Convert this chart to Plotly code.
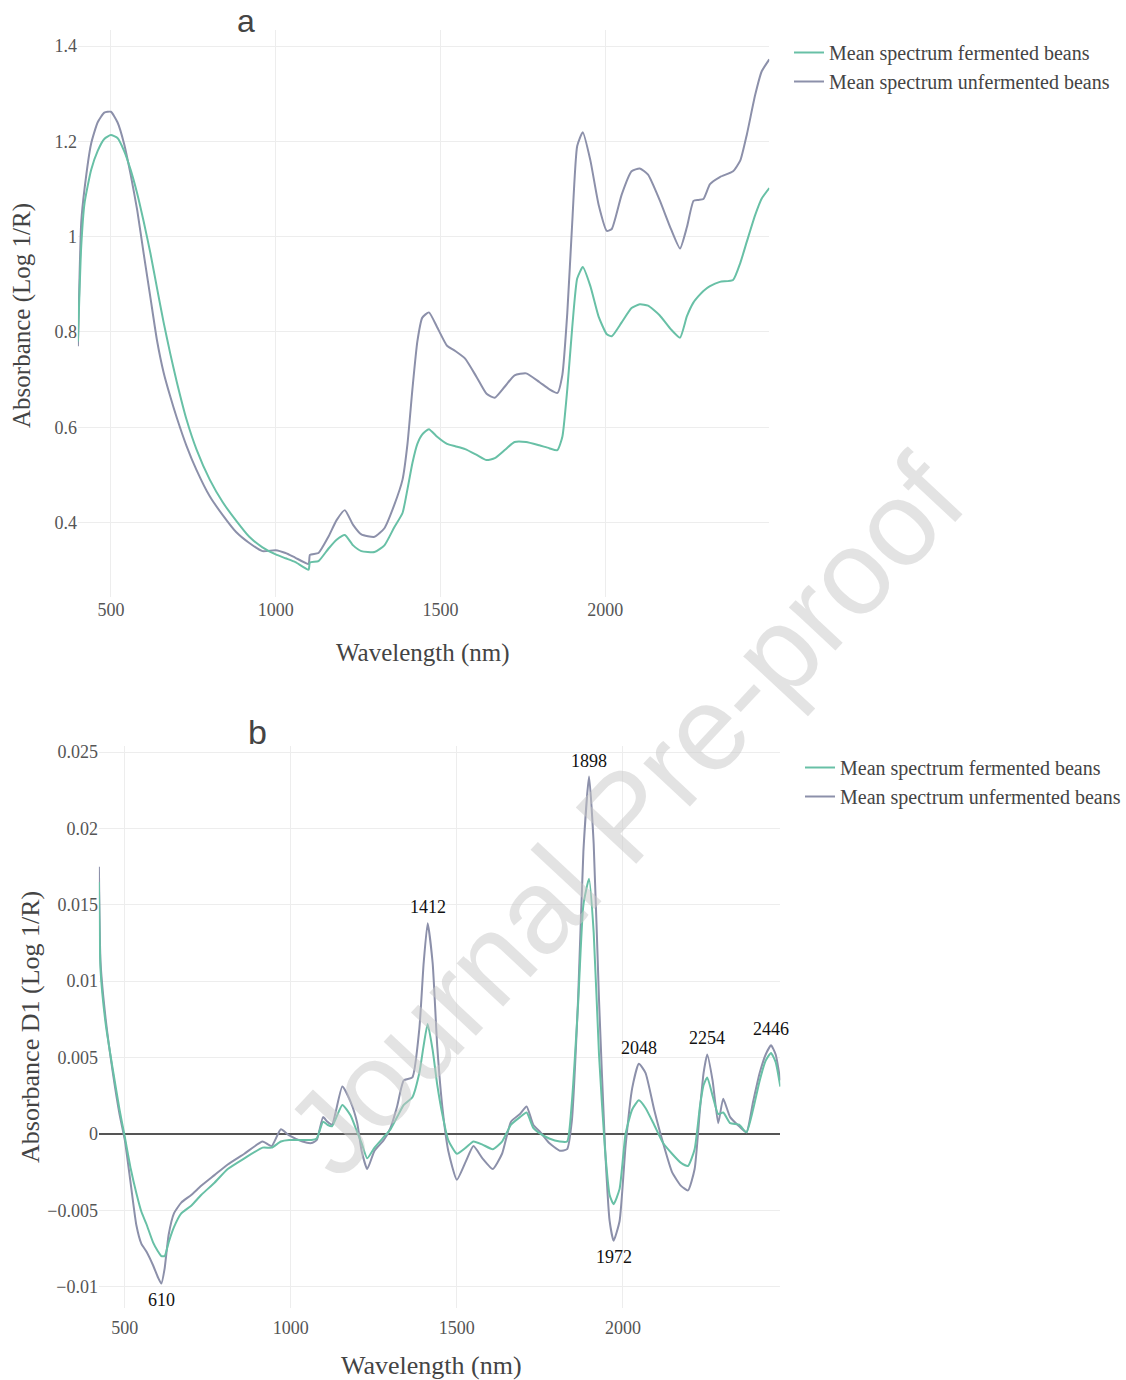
import plotly.graph_objects as go

# ---- Panel a: mean NIR spectra (absorbance, log 1/R) ----
wl_a = [400, 410, 420, 440, 460, 480, 500, 520, 540, 560, 580, 600, 620, 640, 660, 680,
        700, 730, 760, 800, 840, 880, 920, 960, 1000, 1030, 1060, 1100, 1104, 1130, 1160,
        1185, 1210, 1235, 1260, 1300, 1330, 1360, 1385, 1400, 1415, 1430, 1445, 1465, 1490,
        1520, 1545, 1575, 1610, 1640, 1665, 1695, 1725, 1760, 1800, 1830, 1855, 1870, 1885,
        1900, 1915, 1932, 1955, 1980, 2005, 2020, 2050, 2080, 2105, 2130, 2165, 2200, 2227,
        2248, 2268, 2283, 2298, 2318, 2348, 2388, 2410, 2430, 2455, 2475, 2498]

abs_unfermented = [0.77, 1.03, 1.10, 1.195, 1.24, 1.26, 1.262, 1.24, 1.195, 1.13, 1.055, 0.962,
                   0.872, 0.782, 0.715, 0.665, 0.62, 0.56, 0.51, 0.455, 0.415, 0.38, 0.357, 0.34,
                   0.342, 0.336, 0.326, 0.313, 0.332, 0.336, 0.37, 0.405, 0.426, 0.395, 0.375,
                   0.37, 0.388, 0.437, 0.49, 0.565, 0.68, 0.78, 0.83, 0.841, 0.81, 0.771, 0.76,
                   0.744, 0.705, 0.67, 0.662, 0.685, 0.709, 0.713, 0.695, 0.68, 0.672, 0.71, 0.84,
                   1.03, 1.19, 1.219, 1.16, 1.067, 1.012, 1.016, 1.088, 1.137, 1.143, 1.13, 1.077,
                   1.015, 0.975, 1.02, 1.075, 1.077, 1.079, 1.11, 1.125, 1.137, 1.16, 1.215,
                   1.297, 1.347, 1.372]

abs_fermented = [0.78, 0.98, 1.07, 1.14, 1.18, 1.205, 1.213, 1.207, 1.18, 1.14, 1.09, 1.03,
                 0.965, 0.892, 0.82, 0.755, 0.695, 0.615, 0.553, 0.49, 0.442, 0.404, 0.37, 0.348,
                 0.333, 0.325, 0.317, 0.301, 0.316, 0.319, 0.345, 0.364, 0.374, 0.352, 0.34,
                 0.338, 0.352, 0.39, 0.42, 0.47, 0.525, 0.565, 0.585, 0.596, 0.58, 0.565, 0.56,
                 0.554, 0.542, 0.531, 0.535, 0.552, 0.569, 0.569, 0.562, 0.556, 0.552, 0.58,
                 0.68, 0.81, 0.912, 0.936, 0.896, 0.832, 0.795, 0.791, 0.82, 0.85, 0.858, 0.855,
                 0.835, 0.805, 0.788, 0.833, 0.862, 0.875, 0.886, 0.896, 0.905, 0.909, 0.945,
                 0.99, 1.045, 1.08, 1.102]

# ---- Panel b: first derivative spectra ----
wl_b = [422, 427, 443, 464, 484, 500, 518, 535, 550, 565, 585, 600, 610, 620, 632, 648, 670,
        700, 730, 770, 810, 860, 915, 942, 970, 995, 1035, 1062, 1078, 1097, 1110, 1124, 1155,
        1180, 1200, 1213, 1230, 1252, 1280, 1300, 1320, 1340, 1366, 1387, 1400, 1412, 1427,
        1441, 1457, 1474, 1500, 1527, 1550, 1577, 1608, 1636, 1663, 1690, 1710, 1730, 1752,
        1778, 1810, 1832, 1846, 1865, 1881, 1898, 1912, 1928, 1946, 1960, 1972, 1990, 2008,
        2028, 2048, 2068, 2094, 2121, 2148, 2175, 2196, 2216, 2232, 2243, 2254, 2270, 2287,
        2302, 2323, 2350, 2372, 2392, 2412, 2430, 2446, 2460, 2474]

d1_unfermented = [0.0175, 0.0112, 0.0074, 0.0040, 0.0013, -0.0004, -0.0033, -0.0060, -0.0072,
                  -0.0077, -0.0086, -0.0094, -0.0098, -0.0088, -0.0066, -0.0052, -0.0045,
                  -0.0040, -0.0034, -0.0027, -0.0020, -0.0013, -0.0005, -0.0008, 0.0003,
                  -0.0001, -0.0005, -0.0006, -0.0004, 0.0011, 0.0008, 0.0006, 0.0031, 0.0021,
                  0.0007, -0.0011, -0.0023, -0.0011, -0.0004, 0.0004, 0.0018, 0.0035, 0.0037,
                  0.0069, 0.0112, 0.0138, 0.0112, 0.0057, 0.0016, -0.0011, -0.0030, -0.0018,
                  -0.0008, -0.0016, -0.0023, -0.0013, 0.0008, 0.0013, 0.0018, 0.0006, 0.0001,
                  -0.0006, -0.0011, -0.0010, 0.0008, 0.0088, 0.0185, 0.0234, 0.0190, 0.0088,
                  -0.0008, -0.0057, -0.0070, -0.0057, -0.0008, 0.0030, 0.0046, 0.0040, 0.0016,
                  -0.0006, -0.0025, -0.0034, -0.0037, -0.0023, 0.0016, 0.0040, 0.0052, 0.0035,
                  0.0007, 0.0023, 0.0011, 0.0005, 0.0001, 0.0021, 0.0040, 0.0052, 0.0058,
                  0.0052, 0.0035]

d1_fermented = [0.0165, 0.0107, 0.0071, 0.0042, 0.0016, -0.0002, -0.0023, -0.0039, -0.0051,
                -0.0059, -0.0071, -0.0077, -0.0080, -0.0080, -0.0071, -0.0061, -0.0052,
                -0.0047, -0.0040, -0.0032, -0.0023, -0.0016, -0.0009, -0.0009, -0.0005,
                -0.0004, -0.0004, -0.0004, -0.0003, 0.0008, 0.0006, 0.0005, 0.0019, 0.0012,
                0.0001, -0.0006, -0.0016, -0.0009, -0.0002, 0.0003, 0.0011, 0.0019, 0.0024,
                0.0040, 0.0058, 0.0072, 0.0055, 0.0032, 0.0012, -0.0004, -0.0013, -0.0009,
                -0.0005, -0.0007, -0.0010, -0.0005, 0.0006, 0.0011, 0.0014, 0.0004, 0.0000,
                -0.0003, -0.0005, -0.0005, 0.0020, 0.0085, 0.0150, 0.0167, 0.0132, 0.0052,
                -0.0010, -0.0040, -0.0046, -0.0036, 0.0000, 0.0016, 0.0022, 0.0017, 0.0006,
                -0.0006, -0.0013, -0.0019, -0.0021, -0.0010, 0.0018, 0.0032, 0.0037, 0.0025,
                0.0013, 0.0014, 0.0007, 0.0006, 0.0001, 0.0016, 0.0035, 0.0048, 0.0053,
                0.0047, 0.0031]

# Labelled bands on the derivative panel and whether the label sits below the curve
peak_bands = [610, 1412, 1898, 1972, 2048, 2254, 2446]
peak_below = [True, False, False, True, False, False, False]

names = ["Mean spectrum fermented beans", "Mean spectrum unfermented beans"]
COL_FERM = "#68c0a6"
COL_UNF = "#8c90aa"

W, H = 1126, 1380


def px(xp):
    return xp / W


def py(yp):
    return 1 - yp / H


fig = go.Figure()

line_shape = dict(width=2, shape="spline", smoothing=0.5)

# panel a (unfermented drawn first so fermented sits on top; legend reversed)
fig.add_trace(go.Scatter(x=wl_a, y=abs_unfermented, name=names[1], mode="lines",
                         line=dict(color=COL_UNF, **line_shape), xaxis="x", yaxis="y",
                         legend="legend"))
fig.add_trace(go.Scatter(x=wl_a, y=abs_fermented, name=names[0], mode="lines",
                         line=dict(color=COL_FERM, **line_shape), xaxis="x", yaxis="y",
                         legend="legend"))
# panel b
fig.add_trace(go.Scatter(x=wl_b, y=d1_unfermented, name=names[1], mode="lines",
                         line=dict(color=COL_UNF, **line_shape), xaxis="x2", yaxis="y2",
                         legend="legend2"))
fig.add_trace(go.Scatter(x=wl_b, y=d1_fermented, name=names[0], mode="lines",
                         line=dict(color=COL_FERM, **line_shape), xaxis="x2", yaxis="y2",
                         legend="legend2"))

serif = "Liberation Serif"
tick_font = dict(family=serif, size=18, color="#555555")
grid = "#ededed"


def axis(ticklen, **kw):
    base = dict(showline=False, gridcolor=grid, gridwidth=1, tickfont=tick_font,
                automargin=False, ticks="outside" if ticklen else "", ticklen=ticklen,
                tickcolor="rgba(0,0,0,0)")
    base.update(kw)
    return base


fig.update_layout(
    width=W, height=H,
    margin=dict(l=0, r=0, t=0, b=0),
    font=dict(family=serif, color="#555555"),
    paper_bgcolor="white", plot_bgcolor="white",
    xaxis=axis(0, domain=[px(78), px(770)], range=[400, 2498], anchor="y",
               tickvals=[500, 1000, 1500, 2000], zeroline=False),
    yaxis=axis(0, domain=[py(597), py(30)], range=[0.2437, 1.4336], anchor="x",
               tickvals=[0.4, 0.6, 0.8, 1, 1.2, 1.4], zeroline=False),
    xaxis2=axis(3, domain=[px(99), px(781)], range=[422, 2474], anchor="y2",
                tickvals=[500, 1000, 1500, 2000], zeroline=False),
    yaxis2=axis(0, domain=[py(1308), py(746)], range=[-0.0114, 0.0254], anchor="x2",
                dtick=0.005, zeroline=True, zerolinecolor="#555555", zerolinewidth=1.5),
    legend=dict(x=px(789), y=py(33), xanchor="left", yanchor="top",
                font=dict(family=serif, size=20, color="#444444"),
                traceorder="reversed", bgcolor="rgba(0,0,0,0)"),
    legend2=dict(x=px(801), y=py(748), xanchor="left", yanchor="top",
                 font=dict(family=serif, size=20, color="#444444"),
                 traceorder="reversed", bgcolor="rgba(0,0,0,0)"),
    showlegend=True,
)

ann = []


def label(text, xp, yp, size, family=serif, color="#444444", angle=0):
    return dict(text=text, x=px(xp), y=py(yp), xref="paper", yref="paper", showarrow=False,
                xanchor="center", yanchor="middle", textangle=angle,
                font=dict(family=family, size=size, color=color))


# axis titles
ann.append(label("Wavelength (nm)", 423, 653, 25))
ann.append(label("Absorbance (Log 1/R)", 22, 315, 25, angle=-90))
ann.append(label("Wavelength (nm)", 432, 1365, 26))
ann.append(label("Absorbance D1 (Log 1/R)", 30, 1027, 26, angle=-90))
# panel letters
ann.append(label("a", 246, 21, 32, family="Liberation Sans"))
ann.append(label("b", 258, 732, 34, family="Liberation Sans"))

# band labels on the derivative panel
for wl, below in zip(peak_bands, peak_below):
    yv = d1_unfermented[wl_b.index(wl)]
    ann.append(dict(text=str(wl), x=wl, y=yv, xref="x2", yref="y2", showarrow=False,
                    yanchor="top" if below else "bottom", yshift=-4 if below else 4,
                    font=dict(family=serif, size=18, color="#111111")))

# watermark
ann.append(dict(text="Journal Pre-proof", x=px(625), y=py(815), xref="paper", yref="paper",
                xanchor="center", yanchor="middle", showarrow=False, textangle=-47,
                font=dict(family="Liberation Sans", size=120, color="rgba(200,200,200,0.5)")))

fig.update_layout(annotations=ann)

fig.write_html("out.html")
